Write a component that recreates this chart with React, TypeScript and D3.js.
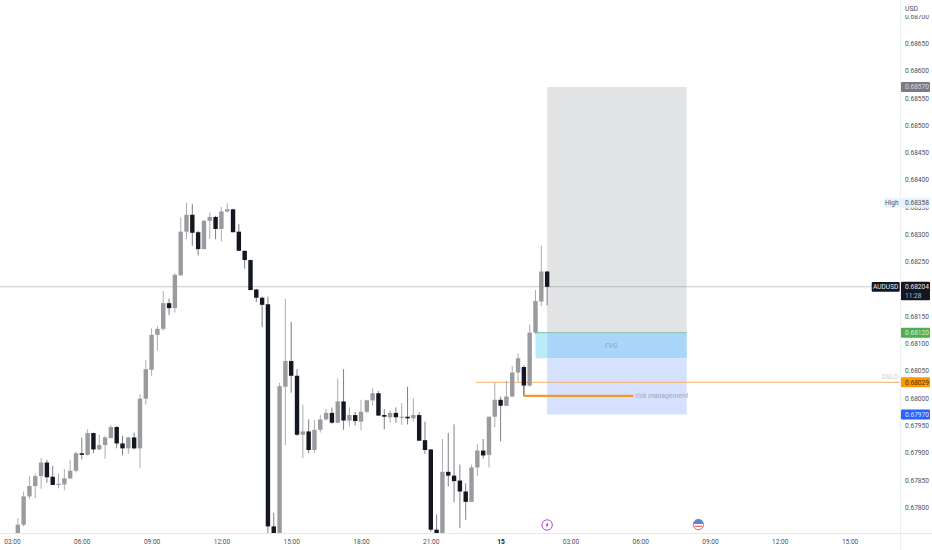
import { useEffect, useRef } from 'react';
import * as d3 from 'd3';

const WIDTH = 932;
const HEIGHT = 550;

// 15 minute candles, first one is 03:15
const firstCandle = 1;
const opens = [67745, 67768, 67820, 67839, 67857, 67882, 67856, 67841, 67842, 67853, 67867, 67899, 67896, 67936, 67906, 67914, 67927, 67947, 67917, 67908, 67928, 67908, 67999, 68052, 68116, 68127, 68174, 68165, 68225, 68305, 68336, 68304, 68273, 68325, 68332, 68310, 68342, 68346, 68305, 68270, 68253, 68199, 68184, 68172, 67765, 67745, 68021, 68068, 68041, 67933, 67939, 67905, 67942, 67961, 67973, 67955, 67994, 67959, 67969, 67957, 67975, 67996, 68009, 67969, 67965, 67973, 67965, 67966, 67963, 67969, 67923, 67906, 67759, 67745, 67865, 67858, 67849, 67829, 67810, 67873, 67904, 67896, 67966, 67997, 67986, 68003, 68047, 68057, 68023, 68120, 68177, 68232];
const highs = [67780, 67829, 67857, 67862, 67890, 67887, 67876, 67862, 67870, 67887, 67902, 67928, 67943, 67937, 67933, 67931, 67951, 67949, 67931, 67929, 67937, 68007, 68070, 68128, 68132, 68196, 68182, 68229, 68331, 68358, 68356, 68307, 68326, 68340, 68334, 68350, 68357, 68347, 68319, 68270, 68254, 68200, 68186, 68186, 67790, 68028, 68182, 68140, 68053, 67988, 67961, 67960, 67969, 67980, 67983, 68036, 68053, 67983, 67975, 67997, 67997, 68018, 68013, 67980, 67978, 67983, 67991, 68021, 68000, 67975, 67957, 67906, 67787, 67925, 67936, 67952, 67878, 67844, 67878, 67916, 67925, 67966, 68028, 68003, 68032, 68059, 68082, 68060, 68135, 68198, 68279, 68233];
const lows = [67740, 67765, 67815, 67817, 67834, 67845, 67841, 67835, 67831, 67851, 67864, 67888, 67895, 67899, 67905, 67889, 67926, 67908, 67895, 67898, 67906, 67872, 67988, 68041, 68087, 68123, 68152, 68157, 68224, 68291, 68279, 68261, 68273, 68292, 68291, 68287, 68340, 68304, 68269, 68237, 68198, 68176, 68130, 67745, 67740, 67740, 67914, 68010, 67931, 67890, 67899, 67900, 67937, 67959, 67953, 67954, 67942, 67948, 67950, 67941, 67972, 67986, 67968, 67943, 67955, 67955, 67951, 67952, 67957, 67922, 67898, 67755, 67740, 67740, 67838, 67809, 67762, 67777, 67810, 67857, 67889, 67873, 67947, 67921, 67986, 68002, 68030, 68004, 68021, 68118, 68169, 68170];
const closes = [67768, 67820, 67839, 67857, 67882, 67855, 67841, 67843, 67853, 67867, 67899, 67896, 67936, 67906, 67914, 67928, 67947, 67917, 67908, 67928, 67908, 67999, 68053, 68116, 68127, 68174, 68165, 68226, 68305, 68336, 68303, 68273, 68325, 68332, 68310, 68342, 68346, 68304, 68270, 68253, 68198, 68184, 68171, 67765, 67745, 68022, 68068, 68041, 67933, 67939, 67905, 67942, 67961, 67973, 67955, 67994, 67959, 67969, 67958, 67975, 67996, 68009, 67968, 67966, 67973, 67965, 67966, 67963, 67969, 67922, 67905, 67759, 67745, 67865, 67858, 67848, 67829, 67810, 67873, 67904, 67895, 67966, 67997, 67986, 68003, 68047, 68073, 68023, 68120, 68178, 68232, 68204];

// 0.68200 sits fully behind the last price tag, so it is left out
const priceTicks = [0.687, 0.6865, 0.686, 0.6855, 0.685, 0.6845, 0.684, 0.6835, 0.683, 0.6825, 0.6815, 0.681, 0.6805, 0.68, 0.6795, 0.679, 0.6785, 0.678];
const timeLabels = ['03:00', '06:00', '09:00', '12:00', '15:00', '18:00', '21:00', '15', '03:00', '06:00', '09:00', '12:00', '15:00'];
const CANDLES_PER_LABEL = 12;

// drawings
const targetPrice = 0.6857;
const entryPrice = 0.6812;
const stopPrice = 0.6797;
const fvgLow = 0.68073;
const orangeLevel = 0.68029;
const riskLevel = 0.68004;
const lastPrice = 0.68204;
const dayHigh = 0.68358;

const FONT = 'Roboto, "Liberation Sans", sans-serif';

export default function App() {
  const svgRef = useRef<SVGSVGElement>(null);

  useEffect(() => {
    if (!svgRef.current) return;
    const svg = d3.select(svgRef.current);
    svg.selectAll('*').remove();

    const xScale = d3.scaleLinear().domain([0, 120]).range([12, 710]);
    const yScale = d3.scaleLinear().domain([0.6825, 0.678]).range([261.7, 507.3]);
    const pipY = (p: number) => yScale(p / 100000);

    const axisX = 900.5;
    const axisY = 533.5;

    svg.append('rect').attr('width', WIDTH).attr('height', HEIGHT).attr('fill', '#ffffff');

    svg.append('defs').append('clipPath').attr('id', 'pane')
      .append('rect').attr('width', axisX).attr('height', axisY);

    const pane = svg.append('g').attr('clip-path', 'url(#pane)');

    const box = (i0: number, i1: number, p0: number, p1: number, fill: string) =>
      pane.append('rect')
        .attr('x', xScale(i0))
        .attr('width', xScale(i1) - xScale(i0))
        .attr('y', yScale(p0))
        .attr('height', yScale(p1) - yScale(p0))
        .attr('fill', fill);

    // Position tool
    box(92, 116, targetPrice, entryPrice, '#e2e3e5');
    box(92, 116, entryPrice, fvgLow, '#a9d6f8');
    box(92, 116, fvgLow, stopPrice, '#d6e0ff');
    box(90, 92, entryPrice, fvgLow, '#b9ecf8');

    pane.append('line')
      .attr('x1', xScale(90)).attr('x2', xScale(116))
      .attr('y1', yScale(entryPrice)).attr('y2', yScale(entryPrice))
      .attr('stroke', '#8fc9b2').attr('stroke-width', 1.2);

    // Last price line
    pane.append('line')
      .attr('x1', 0).attr('x2', axisX)
      .attr('y1', yScale(lastPrice)).attr('y2', yScale(lastPrice))
      .attr('stroke', '#787b86').attr('stroke-opacity', 0.4).attr('stroke-width', 1.1);

    // Orange level
    pane.append('line')
      .attr('x1', xScale(79.8)).attr('x2', axisX)
      .attr('y1', yScale(orangeLevel)).attr('y2', yScale(orangeLevel))
      .attr('stroke', '#f6b26b').attr('stroke-width', 1);

    // Candles
    const rows = opens.map((o, i) => ({
      i: i + firstCandle, o, h: highs[i], l: lows[i], c: closes[i],
    }));
    const colorOf = (d: { o: number; c: number }) => (d.c >= d.o ? '#9a9b9f' : '#131722');

    pane.append('g').selectAll('line').data(rows).join('line')
      .attr('x1', (d) => xScale(d.i)).attr('x2', (d) => xScale(d.i))
      .attr('y1', (d) => pipY(d.h)).attr('y2', (d) => pipY(d.l))
      .attr('stroke', (d) => (d.c >= d.o ? '#a3a4a8' : '#6f7176'))
      .attr('stroke-width', 0.9);

    pane.append('g').selectAll('rect').data(rows).join('rect')
      .attr('x', (d) => xScale(d.i) - 2.2)
      .attr('width', 4.4)
      .attr('y', (d) => pipY(Math.max(d.o, d.c)))
      .attr('height', (d) => Math.max(1, Math.abs(pipY(d.o) - pipY(d.c))))
      .attr('fill', colorOf);

    // Risk line drawn over the candles
    pane.append('path')
      .attr('d', d3.line()([
        [xScale(88), pipY(68023)],
        [xScale(88), yScale(riskLevel)],
      ]))
      .attr('stroke', '#6f7176').attr('stroke-width', 0.9).attr('fill', 'none');
    pane.append('line')
      .attr('x1', xScale(88)).attr('x2', xScale(106.8))
      .attr('y1', yScale(riskLevel)).attr('y2', yScale(riskLevel))
      .attr('stroke', '#f09a2e').attr('stroke-width', 2.2);

    pane.append('text')
      .attr('x', xScale(107.2)).attr('y', yScale(riskLevel) + 2.4)
      .attr('font-size', 7).attr('font-style', 'italic').attr('fill', '#a4a8b8')
      .attr('font-family', FONT)
      .text('risk management');
    pane.append('text')
      .attr('x', 611).attr('y', yScale(0.68096) + 2.4)
      .attr('text-anchor', 'middle')
      .attr('font-size', 7).attr('font-style', 'italic').attr('fill', '#8ea4bd')
      .attr('font-family', FONT)
      .text('FVG');
    pane.append('text')
      .attr('x', 890).attr('y', yScale(orangeLevel) - 3)
      .attr('text-anchor', 'middle')
      .attr('font-size', 6.5).attr('fill', '#c9cbd0')
      .attr('font-family', FONT)
      .text('DSLO');

    // Frame lines
    svg.append('line')
      .attr('x1', 0).attr('x2', WIDTH).attr('y1', axisY).attr('y2', axisY)
      .attr('stroke', '#e6e8eb');
    svg.append('line')
      .attr('x1', axisX).attr('x2', axisX).attr('y1', 0).attr('y2', HEIGHT)
      .attr('stroke', '#eceef1');

    // Price axis
    const yAxis = svg.append('g')
      .attr('transform', `translate(${axisX},0)`)
      .call(
        d3.axisRight(yScale)
          .tickValues(priceTicks)
          .tickSize(0)
          .tickPadding(4.5)
          .tickFormat((d) => (d as number).toFixed(5))
      );
    yAxis.select('.domain').remove();
    yAxis.selectAll('text')
      .attr('font-family', FONT).attr('font-size', 6.6).attr('fill', '#4c4f58');

    // Time axis
    const timeTicks = timeLabels.map((_, i) => i * CANDLES_PER_LABEL);
    const xAxis = svg.append('g')
      .attr('transform', `translate(0,${axisY})`)
      .call(
        d3.axisBottom(xScale)
          .tickValues(timeTicks)
          .tickSize(0)
          .tickPadding(6)
          .tickFormat((_, i) => timeLabels[i])
      );
    xAxis.select('.domain').remove();
    xAxis.selectAll('text')
      .attr('font-family', FONT).attr('font-size', 6.6)
      .attr('fill', (_, i) => (timeLabels[i] === '15' ? '#131722' : '#4c4f58'))
      .attr('font-weight', (_, i) => (timeLabels[i] === '15' ? 700 : 400));

    // Currency header hides the top tick
    svg.append('rect').attr('x', axisX + 0.5).attr('width', WIDTH - axisX).attr('height', 15).attr('fill', '#ffffff');
    svg.append('text')
      .attr('x', 905).attr('y', 10.5)
      .attr('font-family', FONT).attr('font-size', 6.8).attr('fill', '#4c4f58')
      .text('USD');

    // Price tags
    const tag = (price: number, fill: string, color: string) => {
      const y = yScale(price);
      svg.append('rect')
        .attr('x', axisX + 0.5).attr('y', y - 5).attr('width', 29).attr('height', 10)
        .attr('rx', 1).attr('fill', fill);
      svg.append('text')
        .attr('x', 905).attr('y', y + 2.4)
        .attr('font-family', FONT).attr('font-size', 6.6).attr('fill', color)
        .text(price.toFixed(5));
    };
    tag(targetPrice, '#787b86', '#d5d6da');
    tag(dayHigh, '#e8f0f8', '#4c4f58');
    tag(entryPrice, '#4caf50', '#d9f0da');
    tag(orangeLevel, '#ff9800', '#4a3208');
    tag(stopPrice, '#2962ff', '#dbe4ff');

    // High tag
    svg.append('rect')
      .attr('x', 884).attr('y', yScale(dayHigh) - 5).attr('width', 16.5).attr('height', 10)
      .attr('fill', '#edf2f9');
    svg.append('text')
      .attr('x', 885).attr('y', yScale(dayHigh) + 2.2)
      .attr('font-family', FONT).attr('font-size', 6.6).attr('fill', '#4c4f58')
      .text('High');

    // Last price tag with countdown
    const lastY = yScale(lastPrice);
    svg.append('rect')
      .attr('x', 871.7).attr('y', lastY - 4.8).attr('width', 28).attr('height', 9.8)
      .attr('rx', 1).attr('fill', '#131722');
    svg.append('text')
      .attr('x', 885.7).attr('y', lastY + 2.4).attr('text-anchor', 'middle')
      .attr('font-family', FONT).attr('font-size', 6.6).attr('fill', '#e8e9ec')
      .text('AUDUSD');
    svg.append('rect')
      .attr('x', axisX + 0.5).attr('y', lastY - 5).attr('width', 29).attr('height', 18.5)
      .attr('rx', 1).attr('fill', '#131722');
    svg.append('text')
      .attr('x', 905).attr('y', lastY + 2.4)
      .attr('font-family', FONT).attr('font-size', 6.6).attr('fill', '#e8e9ec')
      .text(lastPrice.toFixed(5));
    svg.append('text')
      .attr('x', 905).attr('y', lastY + 10.8)
      .attr('font-family', FONT).attr('font-size', 6.6).attr('fill', '#b8bac0')
      .text('11:28');

    // Event markers
    const bolt = svg.append('g').attr('transform', `translate(${xScale(92)},525)`);
    bolt.append('circle').attr('r', 5.2).attr('fill', '#fff').attr('stroke', '#a64bc9').attr('stroke-width', 1);
    bolt.append('path').attr('d', 'M1,-3.2 L-1.6,0.6 L-0.2,0.6 L-1,3.2 L1.6,-0.8 L0.2,-0.8 Z').attr('fill', '#9c3fc4');

    const flag = svg.append('g').attr('transform', `translate(${xScale(118)},524.5)`);
    flag.append('circle').attr('r', 5.2).attr('fill', '#fff').attr('stroke', '#ef5b62').attr('stroke-width', 1);
    flag.append('path').attr('d', 'M-4.6,-0.4 A4.6,4.6 0 0 1 4.6,-0.4 Z').attr('fill', '#5b84d6');
    flag.append('rect').attr('x', -3.8).attr('y', 1.2).attr('width', 7.6).attr('height', 1.2).attr('fill', '#ef5b62');
  }, []);

  return (
    <svg
      ref={svgRef}
      width={WIDTH}
      height={HEIGHT}
      style={{ position: 'absolute', left: 0, top: 0, display: 'block' }}
    />
  );
}
